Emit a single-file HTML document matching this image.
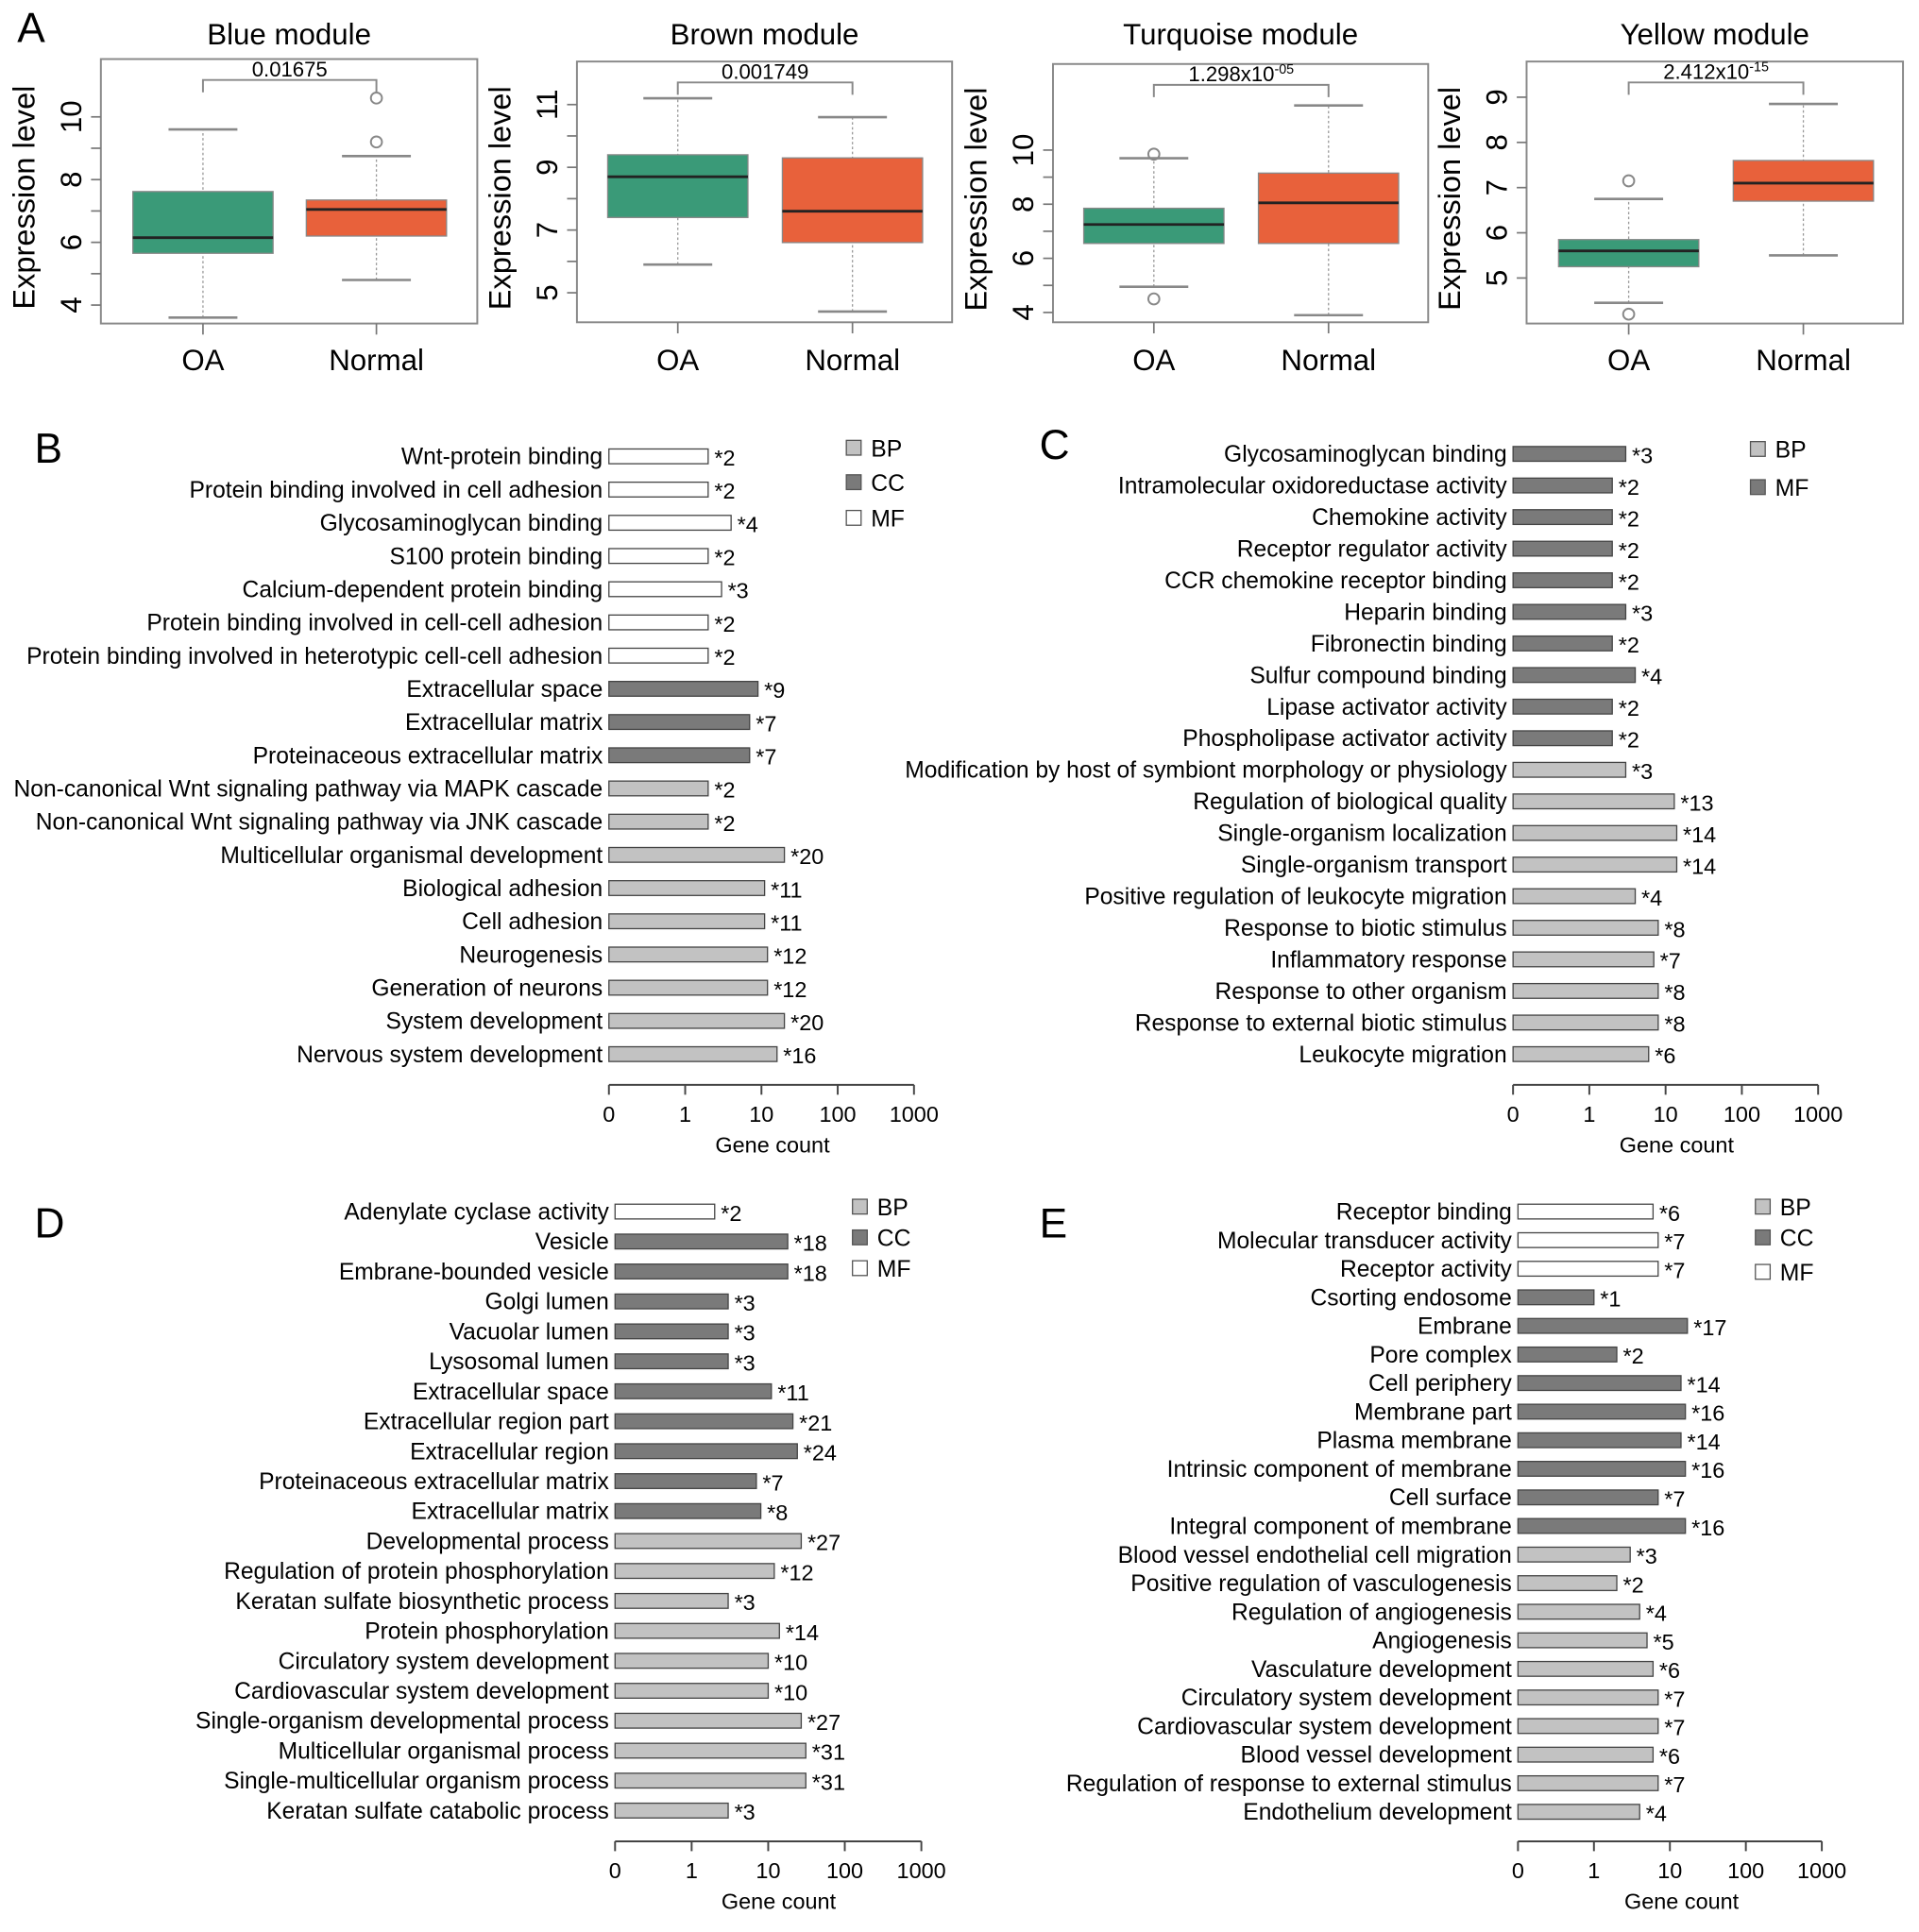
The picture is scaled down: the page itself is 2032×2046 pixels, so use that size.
<!DOCTYPE html>
<html><head><meta charset="utf-8"><style>
html,body{margin:0;padding:0;background:#fff}
svg{display:block;font-family:"Liberation Sans",sans-serif}
</style></head><body>
<svg id="fig" xmlns="http://www.w3.org/2000/svg" width="2032" height="2046" viewBox="0 0 1560 1570.7">
<rect width="1560" height="1571" fill="#fff"/>
</svg>
<script>
const NS="http://www.w3.org/2000/svg";
const svg=document.getElementById('fig');
function mk(tag,attrs,parent,txt){const e=document.createElementNS(NS,tag);for(const k in attrs)e.setAttribute(k,attrs[k]);if(txt!==undefined)e.textContent=txt;(parent||svg).appendChild(e);return e;}

// ---------- Panel A data ----------
const boxTitles=["Blue module","Brown module","Turquoise module","Yellow module"];
const boxPvals=["0.01675","0.001749","1.298x10","2.412x10"];
const boxPexp=["","","-05","-15"];
const groups=["OA","Normal"];
const oaStats=[[3.6,5.65,6.15,7.62,9.6],[5.9,7.4,8.7,9.4,11.2],[4.95,6.55,7.25,7.85,9.7],[4.45,5.25,5.6,5.85,6.75]];
const nmStats=[[4.8,6.2,7.05,7.35,8.75],[4.4,6.6,7.6,9.3,10.6],[3.9,6.55,8.05,9.15,11.65],[5.5,6.7,7.1,7.6,8.85]];
const oaOut=[[],[],[9.85,4.5],[7.15,4.2]];
const nmOut=[[9.2,10.6],[],[],[]];
const yTicks=[[4,5,6,7,8,9,10],[5,6,7,8,9,10,11],[4,5,6,7,8,9,10],[5,6,7,8,9]];
const yLabels=[[4,6,8,10],[5,7,9,11],[4,6,8,10],[5,6,7,8,9]];
// layout (not data)
const boxLayout=[
 {x0:82,x1:388,y0:48,y1:263,c:[165,306],v0:4,p0:248,v1:10,p1:95},
 {x0:469,x1:774,y0:50,y1:262,c:[551,693],v0:5,p0:238,v1:11,p1:85},
 {x0:856,x1:1161,y0:52,y1:262,c:[938,1080],v0:4,p0:254,v1:10,p1:122},
 {x0:1241,x1:1547,y0:50,y1:263,c:[1324,1466],v0:5,p0:226,v1:9,p1:79}];
const fills=["#3a9a78","#e8613b"];

boxLayout.forEach((L,i)=>{
 const g=mk('g',{});
 const y=v=>L.p0+(v-L.v0)*(L.p1-L.p0)/(L.v1-L.v0);
 mk('text',{x:(L.x0+L.x1)/2,y:36,'font-size':24,'text-anchor':'middle',},g,boxTitles[i]);
 mk('rect',{x:L.x0,y:L.y0,width:L.x1-L.x0,height:L.y1-L.y0,fill:'none',stroke:'#888','stroke-width':1.5,},g);
 yTicks[i].forEach(t=>{mk('line',{x1:L.x0-8,x2:L.x0,y1:y(t),y2:y(t),stroke:'#777','stroke-width':1.3},g);});
 yLabels[i].forEach(t=>{mk('text',{x:0,y:0,'font-size':24,'text-anchor':'middle',transform:`translate(${L.x0-16},${y(t)}) rotate(-90)`,},g,String(t));});
 mk('text',{x:0,y:0,'font-size':25,'text-anchor':'middle',transform:`translate(${L.x0-54},${(L.y0+L.y1)/2+5}) rotate(-90)`,},g,'Expression level');
 L.c.forEach((cx,j)=>{
  mk('line',{x1:cx,x2:cx,y1:L.y1,y2:L.y1+9,stroke:'#777','stroke-width':1.3},g);
  mk('text',{x:cx,y:301,'font-size':24,'text-anchor':'middle',},g,groups[j]);
  const s=j==0?oaStats[i]:nmStats[i];const out=j==0?oaOut[i]:nmOut[i];
  const hw=57;
  mk('line',{x1:cx,x2:cx,y1:y(s[0]),y2:y(s[4]),stroke:'#999','stroke-width':1,'stroke-dasharray':'2,2'},g);
  mk('line',{x1:cx-28,x2:cx+28,y1:y(s[0]),y2:y(s[0]),stroke:'#888','stroke-width':2},g);
  mk('line',{x1:cx-28,x2:cx+28,y1:y(s[4]),y2:y(s[4]),stroke:'#888','stroke-width':2},g);
  const r=mk('rect',{x:cx-hw,y:y(s[3]),width:2*hw,height:y(s[1])-y(s[3]),fill:fills[j],stroke:'#888','stroke-width':1},g);
  
  
  mk('line',{x1:cx-hw,x2:cx+hw,y1:y(s[2]),y2:y(s[2]),stroke:'#222','stroke-width':2.2},g);
  out.forEach(o=>{mk('circle',{cx:cx,cy:y(o),r:4.5,fill:'none',stroke:'#888','stroke-width':1.5,},g);});
 });
 mk('path',{d:`M${L.c[0]},${L.y0+27}V${L.y0+17}H${L.c[1]}V${L.y0+27}`,fill:'none',stroke:'#888','stroke-width':1.5,},g);
 const pt=mk('text',{x:(L.c[0]+L.c[1])/2,y:L.y0+14,'font-size':17,'text-anchor':'middle',},g,boxPvals[i]);
 if(boxPexp[i]){mk('tspan',{'font-size':11,dy:-6},pt,boxPexp[i]);}
});

// ---------- GO bar panels data ----------
const bLabels=["Wnt-protein binding","Protein binding involved in cell adhesion","Glycosaminoglycan binding","S100 protein binding","Calcium-dependent protein binding","Protein binding involved in cell-cell adhesion","Protein binding involved in heterotypic cell-cell adhesion","Extracellular space","Extracellular matrix","Proteinaceous extracellular matrix","Non-canonical Wnt signaling pathway via MAPK cascade","Non-canonical Wnt signaling pathway via JNK cascade","Multicellular organismal development","Biological adhesion","Cell adhesion","Neurogenesis","Generation of neurons","System development","Nervous system development"];
const bCounts=[2,2,4,2,3,2,2,9,7,7,2,2,20,11,11,12,12,20,16];
const bCats=["MF","MF","MF","MF","MF","MF","MF","CC","CC","CC","BP","BP","BP","BP","BP","BP","BP","BP","BP"];

const cLabels=["Glycosaminoglycan binding","Intramolecular oxidoreductase activity","Chemokine activity","Receptor regulator activity","CCR chemokine receptor binding","Heparin binding","Fibronectin binding","Sulfur compound binding","Lipase activator activity","Phospholipase activator activity","Modification by host of symbiont morphology or physiology","Regulation of biological quality","Single-organism localization","Single-organism transport","Positive regulation of leukocyte migration","Response to biotic stimulus","Inflammatory response","Response to other organism","Response to external biotic stimulus","Leukocyte migration"];
const cCounts=[3,2,2,2,2,3,2,4,2,2,3,13,14,14,4,8,7,8,8,6];
const cCats=["MFd","MFd","MFd","MFd","MFd","MFd","MFd","MFd","MFd","MFd","BP","BP","BP","BP","BP","BP","BP","BP","BP","BP"];

const dLabels=["Adenylate cyclase activity","Vesicle","Embrane-bounded vesicle","Golgi lumen","Vacuolar lumen","Lysosomal lumen","Extracellular space","Extracellular region part","Extracellular region","Proteinaceous extracellular matrix","Extracellular matrix","Developmental process","Regulation of protein phosphorylation","Keratan sulfate biosynthetic process","Protein phosphorylation","Circulatory system development","Cardiovascular system development","Single-organism developmental process","Multicellular organismal process","Single-multicellular organism process","Keratan sulfate catabolic process"];
const dCounts=[2,18,18,3,3,3,11,21,24,7,8,27,12,3,14,10,10,27,31,31,3];
const dCats=["MF","CC","CC","CC","CC","CC","CC","CC","CC","CC","CC","BP","BP","BP","BP","BP","BP","BP","BP","BP","BP"];

const eLabels=["Receptor binding","Molecular transducer activity","Receptor activity","Csorting endosome","Embrane","Pore complex","Cell periphery","Membrane part","Plasma membrane","Intrinsic component of membrane","Cell surface","Integral component of membrane","Blood vessel endothelial cell migration","Positive regulation of vasculogenesis","Regulation of angiogenesis","Angiogenesis","Vasculature development","Circulatory system development","Cardiovascular system development","Blood vessel development","Regulation of response to external stimulus","Endothelium development"];
const eCounts=[6,7,7,1,17,2,14,16,14,16,7,16,3,2,4,5,6,7,7,6,7,4];
const eCats=["MF","MF","MF","CC","CC","CC","CC","CC","CC","CC","CC","CC","BP","BP","BP","BP","BP","BP","BP","BP","BP","BP"];

const axisTicks=["0","1","10","100","1000"];
const catFill={BP:"#c2c2c2",CC:"#7a7a7a",MF:"#ffffff",MFd:"#7a7a7a"};

function barPanel(name,labels,counts,cats,L,legendItems){
 const g=mk('g',{});
 const dec=(L.x1000-L.x0)/4;
 const x=n=>L.x0+dec+dec*Math.log10(n);
 const step=(L.yLast-L.yFirst)/(labels.length-1);
 labels.forEach((lab,i)=>{
  const cy=L.yFirst+i*step;
  mk('text',{x:L.x0-5,y:cy+6.5,'font-size':18.9,'text-anchor':'end',},g,lab);
  const r=mk('rect',{x:L.x0,y:cy-6,width:x(counts[i])-L.x0,height:12,fill:catFill[cats[i]],stroke:'#444','stroke-width':1},g);
  
  
  mk('text',{x:x(counts[i])+5,y:cy+7.5,'font-size':18,},g,'*'+counts[i]);
 });
 mk('line',{x1:L.x0,x2:L.x1000,y1:L.ya,y2:L.ya,stroke:'#444','stroke-width':1.5,},g);
 axisTicks.forEach((t,i)=>{
  const tx=L.x0+i*dec;
  mk('line',{x1:tx,x2:tx,y1:L.ya,y2:L.ya+8,stroke:'#444','stroke-width':1.5},g);
  mk('text',{x:tx,y:L.ya+30,'font-size':18,'text-anchor':'middle',},g,t);
 });
 mk('text',{x:L.x0+133,y:L.ya+55,'font-size':18,'text-anchor':'middle',},g,'Gene count');
 legendItems.forEach((it,i)=>{
  const ly=L.legY[i];
  mk('rect',{x:L.legX,y:ly-6,width:12,height:12,fill:catFill[it],stroke:'#555','stroke-width':1,},g);
  mk('text',{x:L.legX+20,y:ly+7,'font-size':19,},g,it.slice(0,2));
 });
}
barPanel('panel-b',bLabels,bCounts,bCats,{x0:495,x1000:743,yFirst:371,yLast:857,ya:882,legX:688,legY:[364,392,421]},["BP","CC","MF"]);
barPanel('panel-c',cLabels,cCounts,cCats,{x0:1230,x1000:1478,yFirst:369,yLast:857,ya:882,legX:1423,legY:[365,396]},["BP","MFd"]);
barPanel('panel-d',dLabels,dCounts,dCats,{x0:500,x1000:749,yFirst:985,yLast:1472,ya:1497,legX:693,legY:[981,1006,1031]},["BP","CC","MF"]);
barPanel('panel-e',eLabels,eCounts,eCats,{x0:1234,x1000:1481,yFirst:985,yLast:1473,ya:1497,legX:1427,legY:[981,1006,1034]},["BP","CC","MF"]);

[["A",14,34],["B",28,376],["C",845,373],["D",28,1006],["E",845,1006]].forEach(p=>{
 mk('text',{x:p[1],y:p[2],'font-size':34,},svg,p[0]);
});
</script>
</body></html>
